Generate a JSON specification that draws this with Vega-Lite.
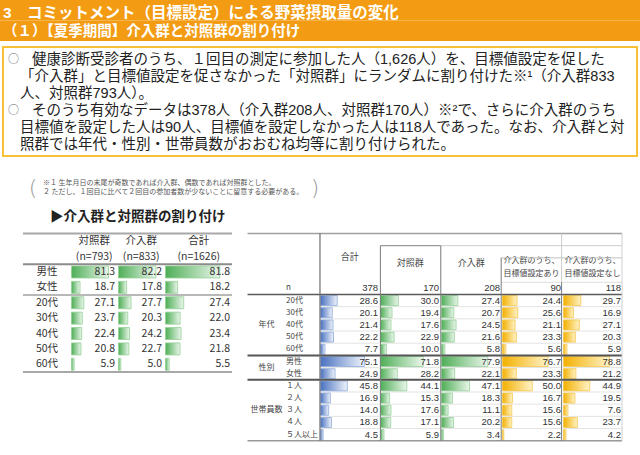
{
"$schema":"https://vega.github.io/schema/vega-lite/v6.json",
"width":640,"height":455,"autosize":"none","padding":0,"background":"#ffffff",
"config":{"view":{"stroke":null},"font":"Noto Sans CJK JP"},
"datasets":{
"header":[{"line":1,"text":"\u00a03　コミットメント（目標設定）による野菜摂取量の変化"},{"line":2,"text":"（１）【夏季期間】介入群と対照群の割り付け"}],
"para":[
{"line":1,"kind":"bullet","text":"○"},
{"line":1,"kind":"text","text":"健康診断受診者のうち、１回目の測定に参加した人（1,626人）を、目標値設定を促した"},
{"line":2,"kind":"cont","text":"「介入群」と目標値設定を促さなかった「対照群」にランダムに割り付けた※¹（介入群833"},
{"line":3,"kind":"cont","text":"人、対照群793人）。"},
{"line":4,"kind":"bullet","text":"○"},
{"line":4,"kind":"text","text":"そのうち有効なデータは378人（介入群208人、対照群170人）※²で、さらに介入群のうち"},
{"line":5,"kind":"cont","text":"目標値を設定した人は90人、目標値を設定しなかった人は118人であった。なお、介入群と対"},
{"line":6,"kind":"cont","text":"照群では年代・性別・世帯員数がおおむね均等に割り付けられた。"}],
"notes":[{"line":1,"text":"※１ 生年月日の末尾が奇数であれば介入群、偶数であれば対照群とした。"},{"line":2,"text":"　２ ただし、１回目に比べて２回目の参加者数が少ないことに留意する必要がある。"}],
"brackets":[{"side":"left","text":"("},{"side":"right","text":")"}],
"subtitle":[{"text":"▶介入群と対照群の割り付け"}],
"leftHead":[{"col":"対照群","row":"h1","text":"対照群"},{"col":"対照群","row":"h2","text":"(n=793)"},{"col":"介入群","row":"h1","text":"介入群"},{"col":"介入群","row":"h2","text":"(n=833)"},{"col":"合計","row":"h1","text":"合計"},{"col":"合計","row":"h2","text":"(n=1626)"}],
"left":[
{"row":"男性","col":"対照群","value":81.3},{"row":"男性","col":"介入群","value":82.2},{"row":"男性","col":"合計","value":81.8},
{"row":"女性","col":"対照群","value":18.7},{"row":"女性","col":"介入群","value":17.8},{"row":"女性","col":"合計","value":18.2},
{"row":"20代","col":"対照群","value":27.1},{"row":"20代","col":"介入群","value":27.7},{"row":"20代","col":"合計","value":27.4},
{"row":"30代","col":"対照群","value":23.7},{"row":"30代","col":"介入群","value":20.3},{"row":"30代","col":"合計","value":22.0},
{"row":"40代","col":"対照群","value":22.4},{"row":"40代","col":"介入群","value":24.2},{"row":"40代","col":"合計","value":23.4},
{"row":"50代","col":"対照群","value":20.8},{"row":"50代","col":"介入群","value":22.7},{"row":"50代","col":"合計","value":21.8},
{"row":"60代","col":"対照群","value":5.9},{"row":"60代","col":"介入群","value":5.0},{"row":"60代","col":"合計","value":5.5}],
"rightHead":[{"col":"合計","row":"hB","text":"合計"},{"col":"対照群","row":"hC","text":"対照群"},{"col":"介入群","row":"hC","text":"介入群"},{"col":"設定あり","row":"hC","text":"介入群のうち、"},{"col":"設定あり","row":"hD","text":"目標値設定あり"},{"col":"設定なし","row":"hC","text":"介入群のうち、"},{"col":"設定なし","row":"hD","text":"目標値設定なし"}],
"rightN":[{"col":"合計","n":378},{"col":"対照群","n":170},{"col":"介入群","n":208},{"col":"設定あり","n":90},{"col":"設定なし","n":118}],
"rightLabels":[{"kind":"item","row":"n","text":"n"},{"kind":"item","row":"20代","text":"20代"},{"kind":"item","row":"30代","text":"30代"},{"kind":"item","row":"40代","text":"40代"},{"kind":"item","row":"50代","text":"50代"},{"kind":"item","row":"60代","text":"60代"},{"kind":"item","row":"男性","text":"男性"},{"kind":"item","row":"女性","text":"女性"},{"kind":"item","row":"１人","text":"１人"},{"kind":"item","row":"２人","text":"２人"},{"kind":"item","row":"３人","text":"３人"},{"kind":"item","row":"４人","text":"４人"},{"kind":"item","row":"５人以上","text":"５人以上"},{"kind":"group","row":"40代","text":"年代"},{"kind":"group","row":"女性","text":"性別"},{"kind":"group","row":"３人","text":"世帯員数"}],
"right":[
{"row":"20代","col":"合計","value":28.6},{"row":"20代","col":"対照群","value":30.0},{"row":"20代","col":"介入群","value":27.4},{"row":"20代","col":"設定あり","value":24.4},{"row":"20代","col":"設定なし","value":29.7},
{"row":"30代","col":"合計","value":20.1},{"row":"30代","col":"対照群","value":19.4},{"row":"30代","col":"介入群","value":20.7},{"row":"30代","col":"設定あり","value":25.6},{"row":"30代","col":"設定なし","value":16.9},
{"row":"40代","col":"合計","value":21.4},{"row":"40代","col":"対照群","value":17.6},{"row":"40代","col":"介入群","value":24.5},{"row":"40代","col":"設定あり","value":21.1},{"row":"40代","col":"設定なし","value":27.1},
{"row":"50代","col":"合計","value":22.2},{"row":"50代","col":"対照群","value":22.9},{"row":"50代","col":"介入群","value":21.6},{"row":"50代","col":"設定あり","value":23.3},{"row":"50代","col":"設定なし","value":20.3},
{"row":"60代","col":"合計","value":7.7},{"row":"60代","col":"対照群","value":10.0},{"row":"60代","col":"介入群","value":5.8},{"row":"60代","col":"設定あり","value":5.6},{"row":"60代","col":"設定なし","value":5.9},
{"row":"男性","col":"合計","value":75.1},{"row":"男性","col":"対照群","value":71.8},{"row":"男性","col":"介入群","value":77.9},{"row":"男性","col":"設定あり","value":76.7},{"row":"男性","col":"設定なし","value":78.8},
{"row":"女性","col":"合計","value":24.9},{"row":"女性","col":"対照群","value":28.2},{"row":"女性","col":"介入群","value":22.1},{"row":"女性","col":"設定あり","value":23.3},{"row":"女性","col":"設定なし","value":21.2},
{"row":"１人","col":"合計","value":45.8},{"row":"１人","col":"対照群","value":44.1},{"row":"１人","col":"介入群","value":47.1},{"row":"１人","col":"設定あり","value":50.0},{"row":"１人","col":"設定なし","value":44.9},
{"row":"２人","col":"合計","value":16.9},{"row":"２人","col":"対照群","value":15.3},{"row":"２人","col":"介入群","value":18.3},{"row":"２人","col":"設定あり","value":16.7},{"row":"２人","col":"設定なし","value":19.5},
{"row":"３人","col":"合計","value":14.0},{"row":"３人","col":"対照群","value":17.6},{"row":"３人","col":"介入群","value":11.1},{"row":"３人","col":"設定あり","value":15.6},{"row":"３人","col":"設定なし","value":7.6},
{"row":"４人","col":"合計","value":18.8},{"row":"４人","col":"対照群","value":17.1},{"row":"４人","col":"介入群","value":20.2},{"row":"４人","col":"設定あり","value":15.6},{"row":"４人","col":"設定なし","value":23.7},
{"row":"５人以上","col":"合計","value":4.5},{"row":"５人以上","col":"対照群","value":5.9},{"row":"５人以上","col":"介入群","value":3.4},{"row":"５人以上","col":"設定あり","value":2.2},{"row":"５人以上","col":"設定なし","value":4.2}]
},
"resolve":{"scale":{"x":"independent","y":"independent"}},
"layer":[
{"data":{"name":"header"},"mark":{"type":"rect","color":"#F39C13"},"encoding":{"y":{"field":"line","type":"ordinal","scale":{"type":"band","domain":[1,2],"range":[0,41],"paddingInner":0,"paddingOuter":0},"axis":null}}},
{"data":{"name":"header"},"transform":[{"filter":"datum.line === 1"}],"mark":{"type":"text","align":"left","baseline":"middle","fontSize":15.5,"fontWeight":"bold","font":"Liberation Sans, Noto Sans CJK JP","color":"#ffffff","dy":2.5},"encoding":{"y":{"field":"line","type":"ordinal","bandPosition":0.5,"scale":{"type":"band","domain":[1,2],"range":[0,41],"paddingInner":0,"paddingOuter":0},"axis":null},"x":{"datum":"title","type":"nominal","bandPosition":0,"scale":{"type":"band","domain":["title"],"range":[3,637],"paddingInner":0,"paddingOuter":0},"axis":null},"text":{"field":"text"}}},
{"data":{"name":"header"},"transform":[{"filter":"datum.line === 2"}],"mark":{"type":"text","align":"left","baseline":"middle","fontSize":14.5,"fontWeight":"bold","font":"Liberation Sans, Noto Sans CJK JP","color":"#ffffff","dy":1.5},"encoding":{"y":{"field":"line","type":"ordinal","bandPosition":0.5,"scale":{"type":"band","domain":[1,2],"range":[0,41],"paddingInner":0,"paddingOuter":0},"axis":null},"x":{"datum":"title","type":"nominal","bandPosition":0,"scale":{"type":"band","domain":["title"],"range":[3,637],"paddingInner":0,"paddingOuter":0},"axis":null},"text":{"field":"text"}}},
{"data":{"values":[{"box":"para"}]},"mark":{"type":"rect","fill":"#ffffff","stroke":"#F6C137","strokeWidth":2},"encoding":{"x":{"field":"box","type":"nominal","scale":{"type":"band","range":[3,637],"paddingInner":0,"paddingOuter":0},"axis":null},"y":{"field":"box","type":"nominal","scale":{"type":"band","range":[47,156],"paddingInner":0,"paddingOuter":0},"axis":null}}},
{"data":{"name":"para"},"layer":[
 {"transform":[{"filter":"datum.kind === 'bullet'"}],"mark":{"type":"text","align":"left","baseline":"middle","fontSize":11,"color":"#666666","dy":1.5},"encoding":{"y":{"field":"line","type":"ordinal","bandPosition":0.5,"scale":{"type":"band","domain":[1,2,3,4,5,6],"range":[49.5,151.5],"paddingInner":0,"paddingOuter":0},"axis":null},"x":{"field":"kind","type":"nominal","scale":{"type":"point","domain":["bullet","cont","text"],"range":[8,32],"padding":0},"axis":null},"text":{"field":"text"}}},
 {"transform":[{"filter":"datum.kind !== 'bullet'"}],"mark":{"type":"text","align":"left","baseline":"middle","fontSize":14.5,"font":"Liberation Sans, Noto Sans CJK JP","color":"#222222","dy":1.5},"encoding":{"y":{"field":"line","type":"ordinal","bandPosition":0.5,"scale":{"type":"band","domain":[1,2,3,4,5,6],"range":[49.5,151.5],"paddingInner":0,"paddingOuter":0},"axis":null},"x":{"field":"kind","type":"nominal","scale":{"type":"point","domain":["bullet","cont","text"],"range":[8,32],"padding":0},"axis":null},"text":{"field":"text"}}}
]},
{"data":{"name":"brackets"},"mark":{"type":"text","align":"center","baseline":"middle","fontSize":22,"font":"DejaVu Sans","fontWeight":200,"color":"#9a9a9a"},"encoding":{"x":{"field":"side","type":"nominal","scale":{"type":"point","domain":["left","right"],"range":[33,315],"padding":0},"axis":null},"y":{"datum":"notes","type":"nominal","bandPosition":0.5,"scale":{"type":"band","domain":["notes"],"range":[176,199],"paddingInner":0,"paddingOuter":0},"axis":null},"text":{"field":"text"}}},
{"data":{"name":"notes"},"mark":{"type":"text","align":"left","baseline":"middle","fontSize":7,"color":"#555555","dy":0.5},"encoding":{"y":{"field":"line","type":"ordinal","bandPosition":0.5,"scale":{"type":"band","domain":[1,2],"range":[177.5,195.5],"paddingInner":0,"paddingOuter":0},"axis":null},"x":{"datum":"notes","type":"nominal","bandPosition":0,"scale":{"type":"band","domain":["notes"],"range":[43,305],"paddingInner":0,"paddingOuter":0},"axis":null},"text":{"field":"text"}}},
{"data":{"name":"subtitle"},"mark":{"type":"text","align":"left","baseline":"middle","fontSize":13.5,"fontWeight":"bold","color":"#222222","dy":1},"encoding":{"y":{"datum":"subtitle","type":"nominal","bandPosition":0.5,"scale":{"type":"band","domain":["subtitle"],"range":[208,224],"paddingInner":0,"paddingOuter":0},"axis":null},"x":{"datum":"subtitle","type":"nominal","bandPosition":0,"scale":{"type":"band","domain":["subtitle"],"range":[50,240],"paddingInner":0,"paddingOuter":0},"axis":null},"text":{"field":"text"}}},
{"resolve":{"scale":{"x":"independent"}},"layer":[
 {"data":{"name":"left"},"transform":[{"filter":"datum.col === '合計'"}],"mark":{"type":"text","align":"center","baseline":"middle","fontSize":10.5,"color":"#333333"},"encoding":{"y":{"field":"row","type":"nominal","bandPosition":0.5,"scale":{"type":"band","domain":["h1","h2","男性","女性","20代","30代","40代","50代","60代"],"range":[233.5,372],"paddingInner":0,"paddingOuter":0},"axis":null},"x":{"datum":"label","type":"nominal","bandPosition":0.5,"scale":{"type":"band","domain":["label"],"range":[23,71],"paddingInner":0,"paddingOuter":0},"axis":null},"text":{"field":"row"}}},
 {"layer":[
  {"data":{"name":"left"},"transform":[{"filter":"datum.col === '対照群'"}],"mark":{"type":"bar","height":{"band":0.78},"color":{"gradient":"linear","x1":0,"y1":0,"x2":1,"y2":0,"stops":[{"offset":0,"color":"#4fae57"},{"offset":1,"color":"#eaf6eb"}]},"stroke":"#93d096","strokeWidth":0.8},"encoding":{"y":{"field":"row","type":"nominal","scale":{"type":"band","domain":["h1","h2","男性","女性","20代","30代","40代","50代","60代"],"range":[233.5,372],"paddingInner":0,"paddingOuter":0},"axis":null},"x":{"field":"value","type":"quantitative","scale":{"type":"linear","domain":[0,100],"range":[71.5,117],"nice":false,"zero":false},"axis":null}}},
  {"data":{"name":"left"},"transform":[{"filter":"datum.col === '対照群'"}],"mark":{"type":"text","align":"right","baseline":"middle","dx":-2,"fontSize":10.5,"color":"#333333"},"encoding":{"y":{"field":"row","type":"nominal","bandPosition":0.5,"axis":null},"x":{"datum":100,"type":"quantitative","axis":null},"text":{"field":"value","type":"quantitative","format":".1f"}}},
  {"data":{"name":"leftHead"},"transform":[{"filter":"datum.col === '対照群'"}],"mark":{"type":"text","align":"center","baseline":"middle","fontSize":10.5,"color":"#333333"},"encoding":{"y":{"field":"row","type":"nominal","bandPosition":0.5,"axis":null},"x":{"datum":50,"type":"quantitative","axis":null},"text":{"field":"text"}}}
 ]},
 {"layer":[
  {"data":{"name":"left"},"transform":[{"filter":"datum.col === '介入群'"}],"mark":{"type":"bar","height":{"band":0.78},"color":{"gradient":"linear","x1":0,"y1":0,"x2":1,"y2":0,"stops":[{"offset":0,"color":"#4fae57"},{"offset":1,"color":"#eaf6eb"}]},"stroke":"#93d096","strokeWidth":0.8},"encoding":{"y":{"field":"row","type":"nominal","scale":{"type":"band","domain":["h1","h2","男性","女性","20代","30代","40代","50代","60代"],"range":[233.5,372],"paddingInner":0,"paddingOuter":0},"axis":null},"x":{"field":"value","type":"quantitative","scale":{"type":"linear","domain":[0,100],"range":[118.5,164],"nice":false,"zero":false},"axis":null}}},
  {"data":{"name":"left"},"transform":[{"filter":"datum.col === '介入群'"}],"mark":{"type":"text","align":"right","baseline":"middle","dx":-2,"fontSize":10.5,"color":"#333333"},"encoding":{"y":{"field":"row","type":"nominal","bandPosition":0.5,"axis":null},"x":{"datum":100,"type":"quantitative","axis":null},"text":{"field":"value","type":"quantitative","format":".1f"}}},
  {"data":{"name":"leftHead"},"transform":[{"filter":"datum.col === '介入群'"}],"mark":{"type":"text","align":"center","baseline":"middle","fontSize":10.5,"color":"#333333"},"encoding":{"y":{"field":"row","type":"nominal","bandPosition":0.5,"axis":null},"x":{"datum":50,"type":"quantitative","axis":null},"text":{"field":"text"}}}
 ]},
 {"layer":[
  {"data":{"name":"left"},"transform":[{"filter":"datum.col === '合計'"}],"mark":{"type":"bar","height":{"band":0.78},"color":{"gradient":"linear","x1":0,"y1":0,"x2":1,"y2":0,"stops":[{"offset":0,"color":"#4fae57"},{"offset":1,"color":"#eaf6eb"}]},"stroke":"#93d096","strokeWidth":0.8},"encoding":{"y":{"field":"row","type":"nominal","scale":{"type":"band","domain":["h1","h2","男性","女性","20代","30代","40代","50代","60代"],"range":[233.5,372],"paddingInner":0,"paddingOuter":0},"axis":null},"x":{"field":"value","type":"quantitative","scale":{"type":"linear","domain":[0,100],"range":[165.5,232],"nice":false,"zero":false},"axis":null}}},
  {"data":{"name":"left"},"transform":[{"filter":"datum.col === '合計'"}],"mark":{"type":"text","align":"right","baseline":"middle","dx":-2,"fontSize":10.5,"color":"#333333"},"encoding":{"y":{"field":"row","type":"nominal","bandPosition":0.5,"axis":null},"x":{"datum":100,"type":"quantitative","axis":null},"text":{"field":"value","type":"quantitative","format":".1f"}}},
  {"data":{"name":"leftHead"},"transform":[{"filter":"datum.col === '合計'"}],"mark":{"type":"text","align":"center","baseline":"middle","fontSize":10.5,"color":"#333333"},"encoding":{"y":{"field":"row","type":"nominal","bandPosition":0.5,"axis":null},"x":{"datum":50,"type":"quantitative","axis":null},"text":{"field":"text"}}}
 ]}
]},
{"data":{"values":[{}]},"layer":[
 {"mark":{"type":"rule","color":"#a8a8a8","strokeWidth":2},"encoding":{"y":{"datum":0,"type":"quantitative","scale":{"domain":[0,9],"range":[233.5,372],"nice":false,"zero":false},"axis":null},"x":{"datum":0,"type":"quantitative","scale":{"domain":[0,1],"range":[23,232],"nice":false,"zero":false},"axis":null},"x2":{"datum":1}}},
 {"mark":{"type":"rule","color":"#8c8c8c","strokeWidth":2},"encoding":{"y":{"datum":2,"type":"quantitative","axis":null},"x":{"datum":0,"type":"quantitative","axis":null},"x2":{"datum":1}}},
 {"mark":{"type":"rule","color":"#a0a0a0","strokeWidth":1.5},"encoding":{"y":{"datum":4,"type":"quantitative","axis":null},"x":{"datum":0,"type":"quantitative","axis":null},"x2":{"datum":1}}},
 {"mark":{"type":"rule","color":"#a8a8a8","strokeWidth":2},"encoding":{"y":{"datum":9,"type":"quantitative","axis":null},"x":{"datum":0,"type":"quantitative","axis":null},"x2":{"datum":1}}}
]},
{"resolve":{"scale":{"x":"independent"}},"layer":[
 {"data":{"name":"rightLabels"},"transform":[{"filter":"datum.kind === 'item'"}],"mark":{"type":"text","align":"left","baseline":"middle","fontSize":8,"color":"#444444"},"encoding":{"y":{"field":"row","type":"nominal","bandPosition":0.5,"scale":{"type":"band","domain":["hA","hB","hC","hD","n","20代","30代","40代","50代","60代","男性","女性","１人","２人","３人","４人","５人以上"],"range":[233.5,440.75],"paddingInner":0,"paddingOuter":0},"axis":null},"x":{"datum":"item","type":"nominal","bandPosition":0,"scale":{"type":"band","domain":["group","item"],"range":[247,325],"paddingInner":0,"paddingOuter":0},"axis":null},"text":{"field":"text"}}},
 {"data":{"name":"rightLabels"},"transform":[{"filter":"datum.kind === 'group' && datum.text !== '性別'"}],"mark":{"type":"text","align":"center","baseline":"middle","fontSize":8,"color":"#444444"},"encoding":{"y":{"field":"row","type":"nominal","bandPosition":0.5,"axis":null},"x":{"datum":"group","type":"nominal","bandPosition":0.5,"scale":{"type":"band","domain":["group","item"],"range":[247,325],"paddingInner":0,"paddingOuter":0},"axis":null},"text":{"field":"text"}}},
 {"data":{"name":"rightLabels"},"transform":[{"filter":"datum.text === '性別'"}],"mark":{"type":"text","align":"center","baseline":"middle","fontSize":8,"color":"#444444"},"encoding":{"y":{"field":"row","type":"nominal","bandPosition":0,"axis":null},"x":{"datum":"group","type":"nominal","bandPosition":0.5,"scale":{"type":"band","domain":["group","item"],"range":[247,325],"paddingInner":0,"paddingOuter":0},"axis":null},"text":{"field":"text"}}},
 {"layer":[
  {"data":{"name":"right"},"transform":[{"filter":"datum.col === '合計'"}],"mark":{"type":"rule","color":"#e3e3e3","strokeWidth":1},"encoding":{"y":{"field":"row","type":"nominal","bandPosition":1,"axis":null},"x":{"datum":0,"type":"quantitative","scale":{"type":"linear","domain":[0,100],"range":[320.5,379],"nice":false,"zero":false},"axis":null},"x2":{"datum":100}}},
  {"data":{"name":"right"},"transform":[{"filter":"datum.col === '合計'"}],"mark":{"type":"bar","height":{"band":0.82},"color":{"gradient":"linear","x1":0,"y1":0,"x2":1,"y2":0,"stops":[{"offset":0,"color":"#4a72c0"},{"offset":1,"color":"#eef3fb"}]},"stroke":"#8eaadc","strokeWidth":0.8},"encoding":{"y":{"field":"row","type":"nominal","axis":null},"x":{"field":"value","type":"quantitative","axis":null}}},
  {"data":{"name":"right"},"transform":[{"filter":"datum.col === '合計'"}],"mark":{"type":"text","align":"right","baseline":"middle","dx":-1,"fontSize":9.5,"font":"Liberation Sans","color":"#333333"},"encoding":{"y":{"field":"row","type":"nominal","bandPosition":0.5,"axis":null},"x":{"datum":100,"type":"quantitative","axis":null},"text":{"field":"value","type":"quantitative","format":".1f"}}},
  {"data":{"name":"rightN"},"transform":[{"filter":"datum.col === '合計'"}],"mark":{"type":"text","align":"right","baseline":"middle","dx":-1,"fontSize":9.5,"font":"Liberation Sans","color":"#333333"},"encoding":{"y":{"datum":"n","type":"nominal","bandPosition":0.5,"axis":null},"x":{"datum":100,"type":"quantitative","axis":null},"text":{"field":"n","type":"quantitative"}}},
  {"data":{"name":"rightHead"},"transform":[{"filter":"datum.col === '合計'"}],"mark":{"type":"text","align":"center","baseline":"middle","dy":-1,"fontSize":9,"color":"#444444"},"encoding":{"y":{"field":"row","type":"nominal","bandPosition":1,"scale":{"type":"band","domain":["hA","hB","hC","hD","n","20代","30代","40代","50代","60代","男性","女性","１人","２人","３人","４人","５人以上"],"range":[233.5,440.75],"paddingInner":0,"paddingOuter":0},"axis":null},"x":{"datum":50,"type":"quantitative","axis":null},"text":{"field":"text"}}}
 ]},
 {"layer":[
  {"data":{"name":"right"},"transform":[{"filter":"datum.col === '対照群'"}],"mark":{"type":"rule","color":"#e3e3e3","strokeWidth":1},"encoding":{"y":{"field":"row","type":"nominal","bandPosition":1,"axis":null},"x":{"datum":0,"type":"quantitative","scale":{"type":"linear","domain":[0,100],"range":[380.5,440],"nice":false,"zero":false},"axis":null},"x2":{"datum":100}}},
  {"data":{"name":"right"},"transform":[{"filter":"datum.col === '対照群'"}],"mark":{"type":"bar","height":{"band":0.82},"color":{"gradient":"linear","x1":0,"y1":0,"x2":1,"y2":0,"stops":[{"offset":0,"color":"#4fae57"},{"offset":1,"color":"#eaf6eb"}]},"stroke":"#93d096","strokeWidth":0.8},"encoding":{"y":{"field":"row","type":"nominal","axis":null},"x":{"field":"value","type":"quantitative","axis":null}}},
  {"data":{"name":"right"},"transform":[{"filter":"datum.col === '対照群'"}],"mark":{"type":"text","align":"right","baseline":"middle","dx":-1,"fontSize":9.5,"font":"Liberation Sans","color":"#333333"},"encoding":{"y":{"field":"row","type":"nominal","bandPosition":0.5,"axis":null},"x":{"datum":100,"type":"quantitative","axis":null},"text":{"field":"value","type":"quantitative","format":".1f"}}},
  {"data":{"name":"rightN"},"transform":[{"filter":"datum.col === '対照群'"}],"mark":{"type":"text","align":"right","baseline":"middle","dx":-1,"fontSize":9.5,"font":"Liberation Sans","color":"#333333"},"encoding":{"y":{"datum":"n","type":"nominal","bandPosition":0.5,"axis":null},"x":{"datum":100,"type":"quantitative","axis":null},"text":{"field":"n","type":"quantitative"}}},
  {"data":{"name":"rightHead"},"transform":[{"filter":"datum.col === '対照群'"}],"mark":{"type":"text","align":"center","baseline":"middle","dy":-1,"fontSize":9,"color":"#444444"},"encoding":{"y":{"field":"row","type":"nominal","bandPosition":0.5,"scale":{"type":"band","domain":["hA","hB","hC","hD","n","20代","30代","40代","50代","60代","男性","女性","１人","２人","３人","４人","５人以上"],"range":[233.5,440.75],"paddingInner":0,"paddingOuter":0},"axis":null},"x":{"datum":50,"type":"quantitative","axis":null},"text":{"field":"text"}}}
 ]},
 {"layer":[
  {"data":{"name":"right"},"transform":[{"filter":"datum.col === '介入群'"}],"mark":{"type":"rule","color":"#e3e3e3","strokeWidth":1},"encoding":{"y":{"field":"row","type":"nominal","bandPosition":1,"axis":null},"x":{"datum":0,"type":"quantitative","scale":{"type":"linear","domain":[0,100],"range":[441.5,501],"nice":false,"zero":false},"axis":null},"x2":{"datum":100}}},
  {"data":{"name":"right"},"transform":[{"filter":"datum.col === '介入群'"}],"mark":{"type":"bar","height":{"band":0.82},"color":{"gradient":"linear","x1":0,"y1":0,"x2":1,"y2":0,"stops":[{"offset":0,"color":"#4fae57"},{"offset":1,"color":"#eaf6eb"}]},"stroke":"#93d096","strokeWidth":0.8},"encoding":{"y":{"field":"row","type":"nominal","axis":null},"x":{"field":"value","type":"quantitative","axis":null}}},
  {"data":{"name":"right"},"transform":[{"filter":"datum.col === '介入群'"}],"mark":{"type":"text","align":"right","baseline":"middle","dx":-1,"fontSize":9.5,"font":"Liberation Sans","color":"#333333"},"encoding":{"y":{"field":"row","type":"nominal","bandPosition":0.5,"axis":null},"x":{"datum":100,"type":"quantitative","axis":null},"text":{"field":"value","type":"quantitative","format":".1f"}}},
  {"data":{"name":"rightN"},"transform":[{"filter":"datum.col === '介入群'"}],"mark":{"type":"text","align":"right","baseline":"middle","dx":-1,"fontSize":9.5,"font":"Liberation Sans","color":"#333333"},"encoding":{"y":{"datum":"n","type":"nominal","bandPosition":0.5,"axis":null},"x":{"datum":100,"type":"quantitative","axis":null},"text":{"field":"n","type":"quantitative"}}},
  {"data":{"name":"rightHead"},"transform":[{"filter":"datum.col === '介入群'"}],"mark":{"type":"text","align":"center","baseline":"middle","dy":-1,"fontSize":9,"color":"#444444"},"encoding":{"y":{"field":"row","type":"nominal","bandPosition":0.5,"scale":{"type":"band","domain":["hA","hB","hC","hD","n","20代","30代","40代","50代","60代","男性","女性","１人","２人","３人","４人","５人以上"],"range":[233.5,440.75],"paddingInner":0,"paddingOuter":0},"axis":null},"x":{"datum":50,"type":"quantitative","axis":null},"text":{"field":"text"}}}
 ]},
 {"layer":[
  {"data":{"name":"right"},"transform":[{"filter":"datum.col === '設定あり'"}],"mark":{"type":"rule","color":"#e3e3e3","strokeWidth":1},"encoding":{"y":{"field":"row","type":"nominal","bandPosition":1,"axis":null},"x":{"datum":0,"type":"quantitative","scale":{"type":"linear","domain":[0,100],"range":[502.5,562],"nice":false,"zero":false},"axis":null},"x2":{"datum":100}}},
  {"data":{"name":"right"},"transform":[{"filter":"datum.col === '設定あり'"}],"mark":{"type":"bar","height":{"band":0.82},"color":{"gradient":"linear","x1":0,"y1":0,"x2":1,"y2":0,"stops":[{"offset":0,"color":"#f3b000"},{"offset":1,"color":"#fff3c8"}]},"stroke":"#f6c74a","strokeWidth":0.8},"encoding":{"y":{"field":"row","type":"nominal","axis":null},"x":{"field":"value","type":"quantitative","axis":null}}},
  {"data":{"name":"right"},"transform":[{"filter":"datum.col === '設定あり'"}],"mark":{"type":"text","align":"right","baseline":"middle","dx":-1,"fontSize":9.5,"font":"Liberation Sans","color":"#333333"},"encoding":{"y":{"field":"row","type":"nominal","bandPosition":0.5,"axis":null},"x":{"datum":100,"type":"quantitative","axis":null},"text":{"field":"value","type":"quantitative","format":".1f"}}},
  {"data":{"name":"rightN"},"transform":[{"filter":"datum.col === '設定あり'"}],"mark":{"type":"text","align":"right","baseline":"middle","dx":-1,"fontSize":9.5,"font":"Liberation Sans","color":"#333333"},"encoding":{"y":{"datum":"n","type":"nominal","bandPosition":0.5,"axis":null},"x":{"datum":100,"type":"quantitative","axis":null},"text":{"field":"n","type":"quantitative"}}},
  {"data":{"name":"rightHead"},"transform":[{"filter":"datum.col === '設定あり'"}],"mark":{"type":"text","align":"left","baseline":"middle","dx":1,"dy":-2.5,"fontSize":8,"color":"#444444"},"encoding":{"y":{"field":"row","type":"nominal","bandPosition":0.5,"scale":{"type":"band","domain":["hA","hB","hC","hD","n","20代","30代","40代","50代","60代","男性","女性","１人","２人","３人","４人","５人以上"],"range":[233.5,440.75],"paddingInner":0,"paddingOuter":0},"axis":null},"x":{"datum":0,"type":"quantitative","axis":null},"text":{"field":"text"}}}
 ]},
 {"layer":[
  {"data":{"name":"right"},"transform":[{"filter":"datum.col === '設定なし'"}],"mark":{"type":"rule","color":"#e3e3e3","strokeWidth":1},"encoding":{"y":{"field":"row","type":"nominal","bandPosition":1,"axis":null},"x":{"datum":0,"type":"quantitative","scale":{"type":"linear","domain":[0,100],"range":[563.5,622],"nice":false,"zero":false},"axis":null},"x2":{"datum":100}}},
  {"data":{"name":"right"},"transform":[{"filter":"datum.col === '設定なし'"}],"mark":{"type":"bar","height":{"band":0.82},"color":{"gradient":"linear","x1":0,"y1":0,"x2":1,"y2":0,"stops":[{"offset":0,"color":"#f3b000"},{"offset":1,"color":"#fff3c8"}]},"stroke":"#f6c74a","strokeWidth":0.8},"encoding":{"y":{"field":"row","type":"nominal","axis":null},"x":{"field":"value","type":"quantitative","axis":null}}},
  {"data":{"name":"right"},"transform":[{"filter":"datum.col === '設定なし'"}],"mark":{"type":"text","align":"right","baseline":"middle","dx":-1,"fontSize":9.5,"font":"Liberation Sans","color":"#333333"},"encoding":{"y":{"field":"row","type":"nominal","bandPosition":0.5,"axis":null},"x":{"datum":100,"type":"quantitative","axis":null},"text":{"field":"value","type":"quantitative","format":".1f"}}},
  {"data":{"name":"rightN"},"transform":[{"filter":"datum.col === '設定なし'"}],"mark":{"type":"text","align":"right","baseline":"middle","dx":-1,"fontSize":9.5,"font":"Liberation Sans","color":"#333333"},"encoding":{"y":{"datum":"n","type":"nominal","bandPosition":0.5,"axis":null},"x":{"datum":100,"type":"quantitative","axis":null},"text":{"field":"n","type":"quantitative"}}},
  {"data":{"name":"rightHead"},"transform":[{"filter":"datum.col === '設定なし'"}],"mark":{"type":"text","align":"left","baseline":"middle","dx":1,"dy":-2.5,"fontSize":8,"color":"#444444"},"encoding":{"y":{"field":"row","type":"nominal","bandPosition":0.5,"scale":{"type":"band","domain":["hA","hB","hC","hD","n","20代","30代","40代","50代","60代","男性","女性","１人","２人","３人","４人","５人以上"],"range":[233.5,440.75],"paddingInner":0,"paddingOuter":0},"axis":null},"x":{"datum":0,"type":"quantitative","axis":null},"text":{"field":"text"}}}
 ]}
]},
{"data":{"values":[{}]},"layer":[
 {"mark":{"type":"rule","color":"#a0a0a0","strokeWidth":1.5},"encoding":{"y":{"datum":0,"type":"quantitative","scale":{"domain":[0,17],"range":[233.5,440.75],"nice":false,"zero":false},"axis":null},"x":{"datum":-1.2,"type":"quantitative","scale":{"domain":[-1.2,5],"range":[247.5,622],"nice":false,"zero":false},"axis":null},"x2":{"datum":5}}},
 {"mark":{"type":"rule","color":"#808080","strokeWidth":1},"encoding":{"y":{"datum":1,"type":"quantitative","axis":null},"x":{"datum":1,"type":"quantitative","axis":null},"x2":{"datum":2}}},
 {"mark":{"type":"rule","color":"#cccccc","strokeWidth":1},"encoding":{"y":{"datum":1,"type":"quantitative","axis":null},"x":{"datum":2,"type":"quantitative","axis":null},"x2":{"datum":5}}},
 {"mark":{"type":"rule","color":"#c0c0c0","strokeWidth":1},"encoding":{"y":{"datum":2,"type":"quantitative","axis":null},"x":{"datum":3,"type":"quantitative","axis":null},"x2":{"datum":5}}},
 {"mark":{"type":"rule","color":"#dddddd","strokeWidth":1},"encoding":{"y":{"datum":4,"type":"quantitative","axis":null},"x":{"datum":3,"type":"quantitative","axis":null},"x2":{"datum":5}}},
 {"mark":{"type":"rule","color":"#5a5a5a","strokeWidth":1.5},"encoding":{"y":{"datum":5,"type":"quantitative","axis":null},"x":{"datum":-1.2,"type":"quantitative","axis":null},"x2":{"datum":5}}},
 {"mark":{"type":"rule","color":"#555555","strokeWidth":2},"encoding":{"y":{"datum":10,"type":"quantitative","axis":null},"x":{"datum":-1.2,"type":"quantitative","axis":null},"x2":{"datum":5}}},
 {"mark":{"type":"rule","color":"#555555","strokeWidth":2},"encoding":{"y":{"datum":12,"type":"quantitative","axis":null},"x":{"datum":-1.2,"type":"quantitative","axis":null},"x2":{"datum":5}}},
 {"mark":{"type":"rule","color":"#999999","strokeWidth":1.5},"encoding":{"y":{"datum":17,"type":"quantitative","axis":null},"x":{"datum":-1.2,"type":"quantitative","axis":null},"x2":{"datum":5}}},
 {"mark":{"type":"rule","color":"#6e6e6e","strokeWidth":1.2},"encoding":{"x":{"datum":0,"type":"quantitative","axis":null},"y":{"datum":0,"type":"quantitative","axis":null},"y2":{"datum":17}}},
 {"mark":{"type":"rule","color":"#7a7a7a","strokeWidth":1},"encoding":{"x":{"datum":1,"type":"quantitative","axis":null},"y":{"datum":1,"type":"quantitative","axis":null},"y2":{"datum":17}}},
 {"mark":{"type":"rule","color":"#7a7a7a","strokeWidth":1},"encoding":{"x":{"datum":2,"type":"quantitative","axis":null},"y":{"datum":1,"type":"quantitative","axis":null},"y2":{"datum":17}}},
 {"mark":{"type":"rule","color":"#7a7a7a","strokeWidth":1},"encoding":{"x":{"datum":3,"type":"quantitative","axis":null},"y":{"datum":2,"type":"quantitative","axis":null},"y2":{"datum":17}}},
 {"mark":{"type":"rule","color":"#cccccc","strokeWidth":1},"encoding":{"x":{"datum":4,"type":"quantitative","axis":null},"y":{"datum":0,"type":"quantitative","axis":null},"y2":{"datum":4}}},
 {"mark":{"type":"rule","color":"#7a7a7a","strokeWidth":1},"encoding":{"x":{"datum":4,"type":"quantitative","axis":null},"y":{"datum":4,"type":"quantitative","axis":null},"y2":{"datum":17}}},
 {"mark":{"type":"rule","color":"#d0d0d0","strokeWidth":1},"encoding":{"x":{"datum":5,"type":"quantitative","axis":null},"y":{"datum":0,"type":"quantitative","axis":null},"y2":{"datum":17}}}
]}
]
}
